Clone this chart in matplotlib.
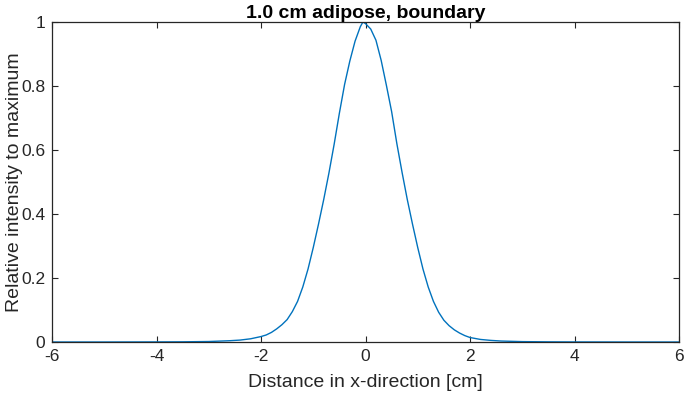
import matplotlib
matplotlib.use("Agg")
import matplotlib.pyplot as plt

# Profile values
x_cm = [-6.0, -5.0, -4.0, -3.5, -3.0, -2.6, -2.4, -2.2, -2.0, -1.9, -1.8, -1.7, -1.6,
        -1.5, -1.4, -1.3, -1.2, -1.1, -1.0, -0.9, -0.8, -0.7, -0.6, -0.5, -0.4,
        -0.3, -0.2, -0.1, -0.05, 0.0, 0.1, 0.2, 0.3, 0.4, 0.5, 0.6, 0.7, 0.8,
        0.9, 1.0, 1.1, 1.2, 1.3, 1.4, 1.5, 1.6, 1.7, 1.8, 1.9, 2.0, 2.2, 2.4,
        2.6, 3.0, 3.5, 4.0, 5.0, 6.0]
intensity = [0.0, 0.0, 0.0003, 0.0006, 0.0015, 0.004, 0.006, 0.010, 0.017, 0.022,
             0.030, 0.041, 0.054, 0.070, 0.095, 0.127, 0.172, 0.228, 0.295, 0.368,
             0.445, 0.528, 0.618, 0.715, 0.805, 0.878, 0.940, 0.985, 1.0, 0.995,
             0.978, 0.943, 0.880, 0.802, 0.720, 0.620, 0.530, 0.445, 0.368, 0.295,
             0.228, 0.172, 0.127, 0.093, 0.068, 0.051, 0.038, 0.028, 0.020, 0.014,
             0.008, 0.005, 0.003, 0.0012, 0.0005, 0.0002, 0.0, 0.0]
x_ticks = [-6, -4, -2, 0, 2, 4, 6]
y_ticks = [0, 0.2, 0.4, 0.6, 0.8, 1]
y_tick_labels = ["0", "0.2", "0.4", "0.6", "0.8", "1"]

plt.rcParams['font.family'] = ['Liberation Sans', 'DejaVu Sans']
plt.rcParams['axes.unicode_minus'] = False
fig = plt.figure(figsize=(6.85, 3.95), dpi=100)
ax = fig.add_axes([52/685, 53/395, 627/685, 320/395])
ax.plot(x_cm, intensity, color='#0072BD', linewidth=1.0)
ax.set_xlim(-6, 6)
ax.set_ylim(0, 1)
ax.set_xticks(x_ticks)
ax.set_yticks(y_ticks)
ax.set_yticklabels(y_tick_labels)
edge = '#262626'
for s in ax.spines.values():
    s.set_color(edge)
    s.set_linewidth(0.9)
ax.tick_params(direction='in', length=4, width=0.8, color=edge, labelcolor=edge,
               labelsize=12.5, top=True, right=True, pad=5)
ax.set_xlabel('Distance in x-direction [cm]', fontsize=14, color=edge, labelpad=7)
ax.set_ylabel('Relative intensity to maximum', fontsize=14, color=edge, labelpad=-1.5)
ax.set_title('1.0 cm adipose, boundary', fontsize=14, fontweight='bold', color='black', pad=3)
fig.savefig('out.png', dpi=100)
